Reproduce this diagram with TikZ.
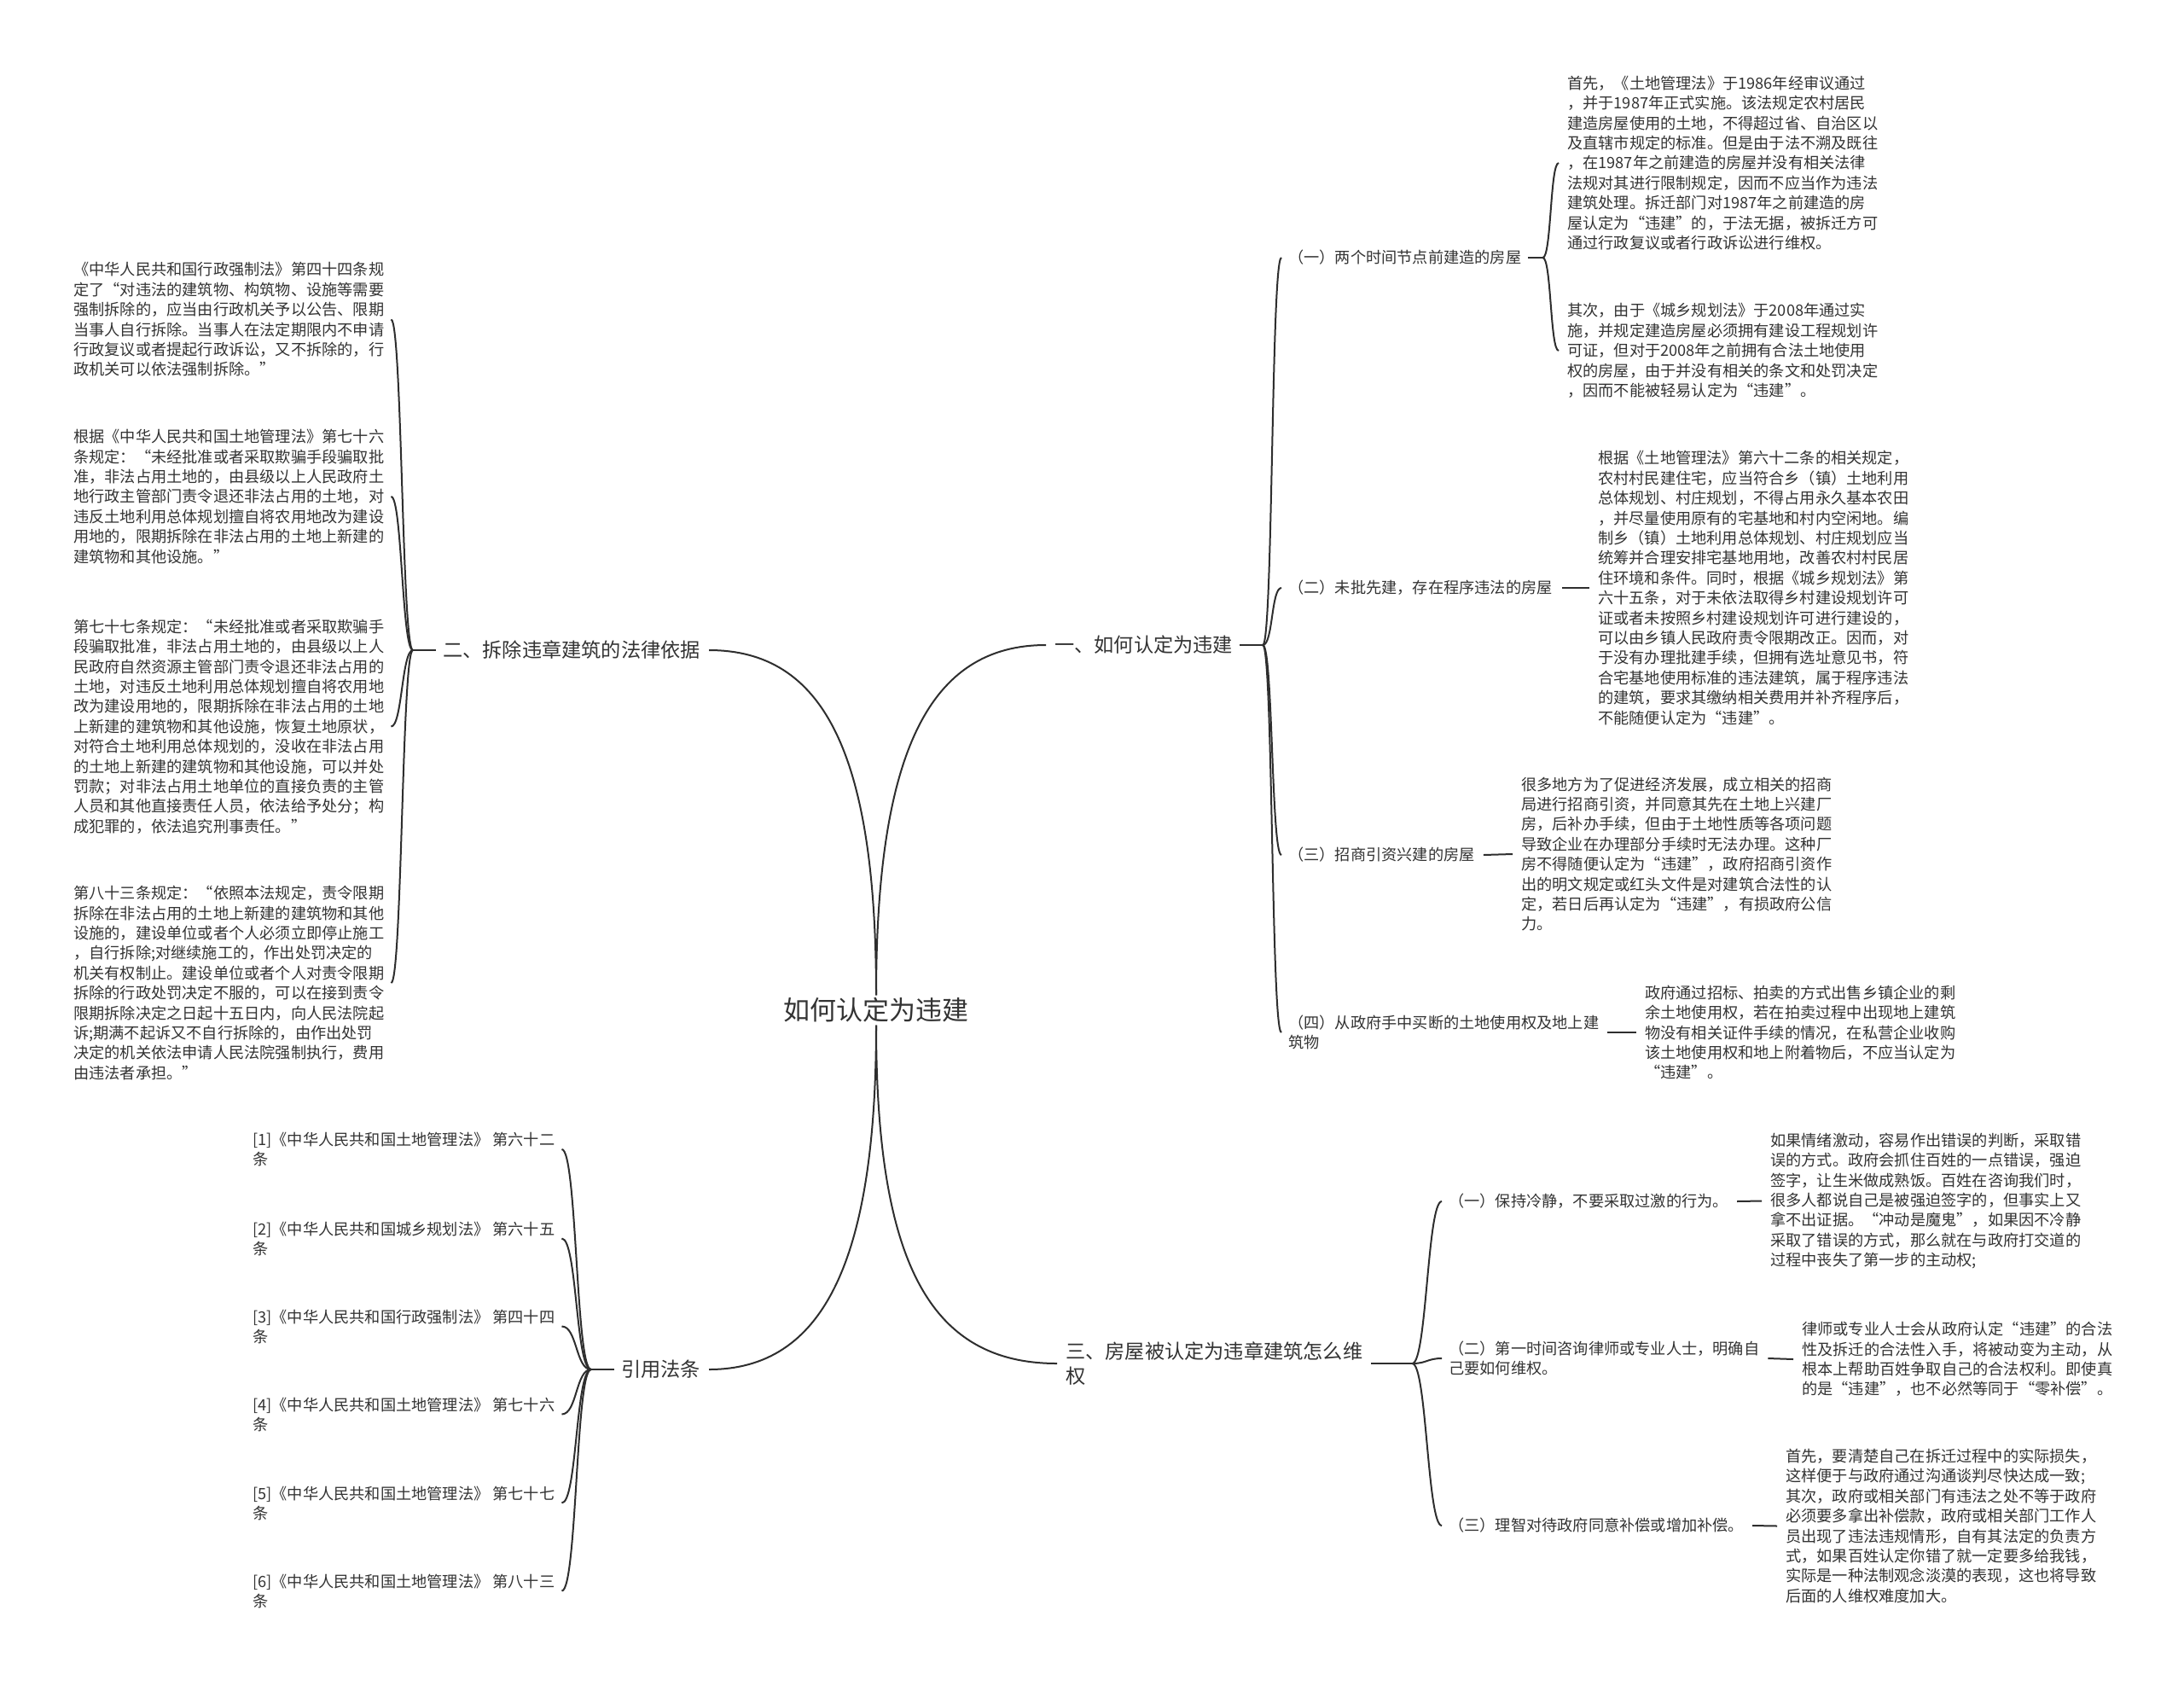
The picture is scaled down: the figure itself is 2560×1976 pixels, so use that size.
\documentclass[tikz,border=0pt]{standalone}
\usepackage{fontspec}
\setmainfont{Noto Sans CJK SC}
\definecolor{txt}{HTML}{333333}
\definecolor{lc}{HTML}{2E2E2E}
\tikzset{
  blk/.style={font=\fontsize{18.2}{23.4}\selectfont, align=left, inner sep=0pt, anchor=west, text=txt},
  reflbl/.style={font=\fontsize{18.2}{23}\selectfont, align=left, inner sep=0pt, anchor=west, text=txt},
  mainlbl/.style={font=\fontsize{23.2}{29.4}\selectfont, align=left, inner sep=0pt, text=txt},
  rootlbl/.style={font=\fontsize{31}{36}\selectfont, inner sep=3pt, text=txt},
  conn/.style={draw=lc, line width=2pt}
}
\begin{document}
\begin{tikzpicture}[x=1pt,y=-1pt]
\useasboundingbox (0,0) rectangle (2560,1976);
\fill[white] (0,0) rectangle (2560,1976);

% root
\node[rootlbl] (root) at (1027,1184) {如何认定为违建};

% main branches
\node[mainlbl, anchor=west] (b1) at (1236,756) {一、如何认定为违建};
\node[mainlbl, anchor=east] (b2) at (821,762) {二、拆除违章建筑的法律依据};
\node[mainlbl, anchor=west] (b3) at (1249,1598) {三、房屋被认定为违章建筑怎么维\\权};
\node[mainlbl, anchor=east] (b4) at (821,1605) {引用法条};

\draw[conn] (root.north) .. controls (1027,880) and (1090,756) .. ([xshift=-10pt]b1.west);
\draw[conn] (root.north) .. controls (1027,880) and (964,762) .. ([xshift=10pt]b2.east);
\draw[conn] (root.south) .. controls (1027,1480) and (1090,1598) .. ([xshift=-10pt]b3.west);
\draw[conn] (root.south) .. controls (1027,1480) and (964,1605) .. ([xshift=10pt]b4.east);

% ---------- branch 1 ----------
\node[blk] (c11) at (1510,302) {（一）两个时间节点前建造的房屋};
\node[blk] (c12) at (1510,689) {（二）未批先建，存在程序违法的房屋};
\node[blk] (c13) at (1510,1002) {（三）招商引资兴建的房屋};
\node[blk] (c14) at (1510,1210) {（四）从政府手中买断的土地使用权及地上建\\筑物};

\coordinate (b1o) at ([xshift=35pt]b1.east);
\draw[conn] ([xshift=8pt]b1.east) -- (b1o);
\foreach \c in {c11,c12,c13,c14}
  \draw[conn] (b1o) .. controls +(12,0) and +(-12,0) .. ([xshift=-8pt]\c.west);

\node[blk] (tA) at (1837,191) {首先，《土地管理法》于1986年经审议通过\\
，并于1987年正式实施。该法规定农村居民\\
建造房屋使用的土地，不得超过省、自治区以\\
及直辖市规定的标准。但是由于法不溯及既往\\
，在1987年之前建造的房屋并没有相关法律\\
法规对其进行限制规定，因而不应当作为违法\\
建筑处理。拆迁部门对1987年之前建造的房\\
屋认定为“违建”的，于法无据，被拆迁方可\\
通过行政复议或者行政诉讼进行维权。};
\node[blk] (tB) at (1837,411) {其次，由于《城乡规划法》于2008年通过实\\
施，并规定建造房屋必须拥有建设工程规划许\\
可证，但对于2008年之前拥有合法土地使用\\
权的房屋，由于并没有相关的条文和处罚决定\\
，因而不能被轻易认定为“违建”。};

\coordinate (c11o) at ([xshift=25pt]c11.east);
\draw[conn] ([xshift=8pt]c11.east) -- (c11o);
\draw[conn] (c11o) .. controls +(10,0) and +(-10,0) .. ([xshift=-10pt]tA.west);
\draw[conn] (c11o) .. controls +(10,0) and +(-10,0) .. ([xshift=-10pt]tB.west);

\node[blk] (tC) at (1873,689) {根据《土地管理法》第六十二条的相关规定，\\
农村村民建住宅，应当符合乡（镇）土地利用\\
总体规划、村庄规划，不得占用永久基本农田\\
，并尽量使用原有的宅基地和村内空闲地。编\\
制乡（镇）土地利用总体规划、村庄规划应当\\
统筹并合理安排宅基地用地，改善农村村民居\\
住环境和条件。同时，根据《城乡规划法》第\\
六十五条，对于未依法取得乡村建设规划许可\\
证或者未按照乡村建设规划许可进行建设的，\\
可以由乡镇人民政府责令限期改正。因而，对\\
于没有办理批建手续，但拥有选址意见书，符\\
合宅基地使用标准的违法建筑，属于程序违法\\
的建筑，要求其缴纳相关费用并补齐程序后，\\
不能随便认定为“违建”。};
\draw[conn] ([xshift=11pt]c12.east) -- ([xshift=-10pt]tC.west);

\node[blk] (tD) at (1783,1001) {很多地方为了促进经济发展，成立相关的招商\\
局进行招商引资，并同意其先在土地上兴建厂\\
房，后补办手续，但由于土地性质等各项问题\\
导致企业在办理部分手续时无法办理。这种厂\\
房不得随便认定为“违建”，政府招商引资作\\
出的明文规定或红头文件是对建筑合法性的认\\
定，若日后再认定为“违建”，有损政府公信\\
力。};
\draw[conn] ([xshift=10pt]c13.east) -- ([xshift=-10pt]tD.west);

\node[blk] (tE) at (1928,1210) {政府通过招标、拍卖的方式出售乡镇企业的剩\\
余土地使用权，若在拍卖过程中出现地上建筑\\
物没有相关证件手续的情况，在私营企业收购\\
该土地使用权和地上附着物后，不应当认定为\\
“违建”。};
\draw[conn] ([xshift=10pt]c14.east) -- ([xshift=-10pt]tE.west);

% ---------- branch 2 ----------
\node[blk] (tF) at (86,374.5) {《中华人民共和国行政强制法》第四十四条规\\
定了“对违法的建筑物、构筑物、设施等需要\\
强制拆除的，应当由行政机关予以公告、限期\\
当事人自行拆除。当事人在法定期限内不申请\\
行政复议或者提起行政诉讼，又不拆除的，行\\
政机关可以依法强制拆除。”};
\node[blk] (tG) at (86,582) {根据《中华人民共和国土地管理法》第七十六\\
条规定：“未经批准或者采取欺骗手段骗取批\\
准，非法占用土地的，由县级以上人民政府土\\
地行政主管部门责令退还非法占用的土地，对\\
违反土地利用总体规划擅自将农用地改为建设\\
用地的，限期拆除在非法占用的土地上新建的\\
建筑物和其他设施。”};
\node[blk] (tH) at (86,851.5) {第七十七条规定：“未经批准或者采取欺骗手\\
段骗取批准，非法占用土地的，由县级以上人\\
民政府自然资源主管部门责令退还非法占用的\\
土地，对违反土地利用总体规划擅自将农用地\\
改为建设用地的，限期拆除在非法占用的土地\\
上新建的建筑物和其他设施，恢复土地原状，\\
对符合土地利用总体规划的，没收在非法占用\\
的土地上新建的建筑物和其他设施，可以并处\\
罚款；对非法占用土地单位的直接负责的主管\\
人员和其他直接责任人员，依法给予处分；构\\
成犯罪的，依法追究刑事责任。”};
\node[blk] (tI) at (86,1152) {第八十三条规定：“依照本法规定，责令限期\\
拆除在非法占用的土地上新建的建筑物和其他\\
设施的，建设单位或者个人必须立即停止施工\\
，自行拆除;对继续施工的，作出处罚决定的\\
机关有权制止。建设单位或者个人对责令限期\\
拆除的行政处罚决定不服的，可以在接到责令\\
限期拆除决定之日起十五日内，向人民法院起\\
诉;期满不起诉又不自行拆除的，由作出处罚\\
决定的机关依法申请人民法院强制执行，费用\\
由违法者承担。”};

\coordinate (b2o) at ([xshift=-35pt]b2.west);
\draw[conn] ([xshift=-8pt]b2.west) -- (b2o);
\foreach \c in {tF,tG,tH,tI}
  \draw[conn] (b2o) .. controls +(-13,0) and +(13,0) .. ([xshift=8pt]\c.east);

% ---------- branch 3 ----------
\node[blk] (c31) at (1698,1408) {（一）保持冷静，不要采取过激的行为。};
\node[blk] (c32) at (1698,1592) {（二）第一时间咨询律师或专业人士，明确自\\己要如何维权。};
\node[blk] (c33) at (1698,1788) {（三）理智对待政府同意补偿或增加补偿。};

\coordinate (b3o) at ([xshift=58pt]b3.east);
\draw[conn] ([xshift=10pt]b3.east) -- (b3o);
\foreach \c in {c31,c32,c33}
  \draw[conn] (b3o) .. controls +(17,0) and +(-17,0) .. ([xshift=-8pt]\c.west);

\node[blk] (tJ) at (2075,1407.5) {如果情绪激动，容易作出错误的判断，采取错\\
误的方式。政府会抓住百姓的一点错误，强迫\\
签字，让生米做成熟饭。百姓在咨询我们时，\\
很多人都说自己是被强迫签字的，但事实上又\\
拿不出证据。“冲动是魔鬼”，如果因不冷静\\
采取了错误的方式，那么就在与政府打交道的\\
过程中丧失了第一步的主动权;};
\draw[conn] ([xshift=10pt]c31.east) -- ([xshift=-10pt]tJ.west);

\node[blk] (tK) at (2112,1593) {律师或专业人士会从政府认定“违建”的合法\\
性及拆迁的合法性入手，将被动变为主动，从\\
根本上帮助百姓争取自己的合法权利。即使真\\
的是“违建”，也不必然等同于“零补偿”。};
\draw[conn] ([xshift=10pt]c32.east) -- ([xshift=-10pt]tK.west);

\node[blk] (tL) at (2093,1788.5) {首先，要清楚自己在拆迁过程中的实际损失，\\
这样便于与政府通过沟通谈判尽快达成一致;\\
其次，政府或相关部门有违法之处不等于政府\\
必须要多拿出补偿款，政府或相关部门工作人\\
员出现了违法违规情形，自有其法定的负责方\\
式，如果百姓认定你错了就一定要多给我钱，\\
实际是一种法制观念淡漠的表现，这也将导致\\
后面的人维权难度加大。};
\draw[conn] ([xshift=10pt]c33.east) -- ([xshift=-10pt]tL.west);

% ---------- branch 4 ----------
\node[reflbl] (r1) at (296,1347) {[1]《中华人民共和国土地管理法》 第六十二\\条};
\node[reflbl] (r2) at (296,1451.5) {[2]《中华人民共和国城乡规划法》 第六十五\\条};
\node[reflbl] (r3) at (296,1554.5) {[3]《中华人民共和国行政强制法》 第四十四\\条};
\node[reflbl] (r4) at (296,1657.5) {[4]《中华人民共和国土地管理法》 第七十六\\条};
\node[reflbl] (r5) at (296,1761.5) {[5]《中华人民共和国土地管理法》 第七十七\\条};
\node[reflbl] (r6) at (296,1864.5) {[6]《中华人民共和国土地管理法》 第八十三\\条};

\coordinate (b4o) at ([xshift=-35pt]b4.west);
\draw[conn] ([xshift=-8pt]b4.west) -- (b4o);
\foreach \c in {r1,r2,r3,r4,r5,r6}
  \draw[conn] (b4o) .. controls +(-18,0) and +(18,0) .. ([xshift=8pt]\c.east);
\end{tikzpicture}
\end{document}
